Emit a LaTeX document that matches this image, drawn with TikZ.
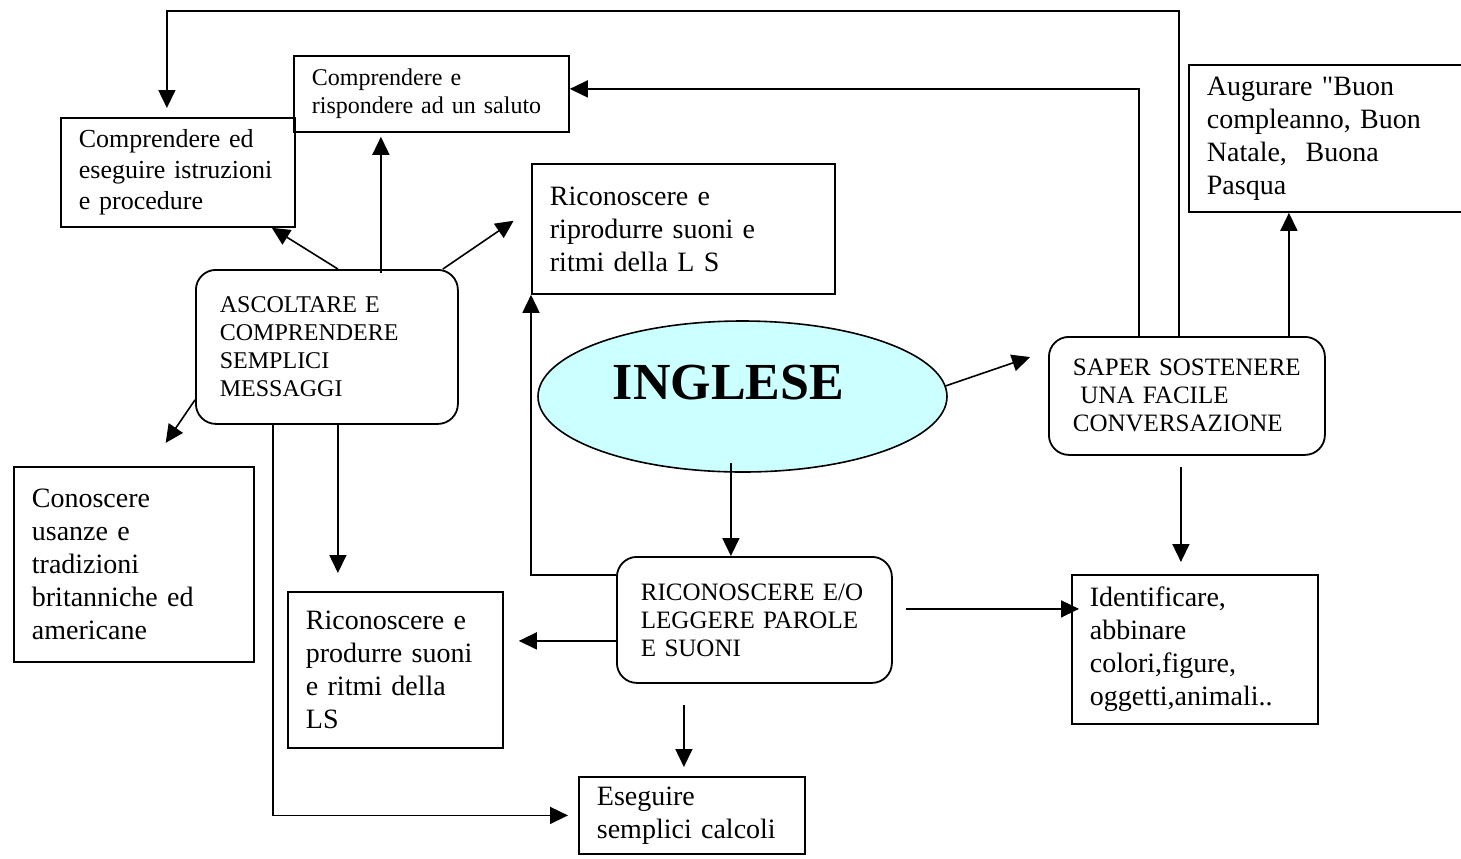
\documentclass[tikz,border=0pt]{standalone}
\usepackage{fontspec}
\setmainfont{Liberation Serif}[Ligatures=TeXOff]
\usetikzlibrary{arrows.meta,shapes.geometric}
\definecolor{lightcyan}{HTML}{CCFFFF}

\begin{document}
\begin{tikzpicture}[x=0.5pt,y=-0.5pt,>={Triangle[length=9pt,width=8.5pt]},line width=0.8pt]
  \tikzset{box/.style={draw,rectangle,anchor=north west,align=left,inner xsep=9pt,inner ysep=2pt,line width=0.9pt,font=\fontsize{14}{16.5}\selectfont},
    capsbox/.style={box,rounded corners=10pt,inner xsep=12pt,font=\fontsize{12.5}{14}\selectfont}}
  \useasboundingbox (0,0) rectangle (1461,858);
  \node[box,text width=99pt,minimum height=54.5pt,font=\fontsize{13}{15.5}\selectfont] (istruzioni) at (60,117) {Comprendere ed\\eseguire istruzioni\\e procedure};
  \node[box,text width=119.5pt,minimum height=38pt,font=\fontsize{12}{14}\selectfont] (saluto) at (293,55) {Comprendere e\\rispondere ad un saluto};
  \node[box,text width=133.5pt,minimum height=65pt] (riprodurre) at (531,163) {Riconoscere e\\riprodurre suoni e\\ritmi della L S};
  \node[box,text width=102pt,minimum height=97.5pt] (conoscere) at (13,466) {Conoscere\\usanze e\\tradizioni\\britanniche ed\\americane};
  \node[box,text width=89.5pt,minimum height=78pt] (produrre) at (287,591) {Riconoscere e\\produrre suoni\\e ritmi della\\LS};
  \node[box,text width=95pt,minimum height=38.5pt] (calcoli) at (578,776) {Eseguire\\semplici calcoli};
  \node[box,text width=127pt,minimum height=73.5pt] (augurare) at (1188,64) {Augurare "Buon\\compleanno, Buon\\Natale,~ Buona\\Pasqua};
  \node[box,text width=105pt,minimum height=74.5pt] (identificare) at (1071,574) {Identificare,\\abbinare\\colori,figure,\\oggetti,animali..};
  \node[capsbox,text width=107pt,minimum height=77pt,font=\fontsize{12}{14}\selectfont] (ascoltare) at (195,269) {ASCOLTARE E\\COMPRENDERE\\SEMPLICI\\MESSAGGI};
  \node[capsbox,text width=114pt,minimum height=59pt] (saper) at (1048,336) {SAPER SOSTENERE\\\hspace*{.3em}UNA FACILE\\CONVERSAZIONE};
  \node[capsbox,text width=113.5pt,minimum height=63pt] (riconoscere) at (616,556) {RICONOSCERE E/O\\LEGGERE PAROLE\\E SUONI};
  \node[draw,ellipse,fill=lightcyan,minimum width=204.5pt,minimum height=75.5pt,inner sep=0pt,
    label={[xshift=-7pt,yshift=7pt,font=\fontsize{26}{30}\bfseries]center:INGLESE}] (inglese) at (742.5,396.5) {};
  \coordinate (loop) at (1179,11);
  \draw[->,shorten >=4.5pt] (saper.north -| loop) -- (loop) -| ([xshift=-5.5pt]istruzioni.north);
  \draw[->] ([xshift=-24pt]saper.north) |- ([yshift=2.5pt]saluto.east);
  \draw[->] ([xshift=51pt]saper.north) -- ([xshift=51pt]saper.north |- augurare.south);
  \draw[->,shorten >=9.5pt] (inglese.3) -- ([yshift=22.5pt]saper.west);
  \draw[->,shorten <=-5pt] ([xshift=-11.75pt]riconoscere.north |- inglese.south) -- ([xshift=-11.75pt]riconoscere.north);
  \draw[->] ([yshift=22.5pt]riconoscere.west) -| (riprodurre.south west);
  \draw[->,shorten >=7.5pt] ([yshift=-10.5pt]riconoscere.west) -- ([yshift=-10.5pt]riconoscere.west -| produrre.east);
  \draw[->,shorten <=6.5pt,shorten >=-4pt] ([yshift=5.5pt]riconoscere.east) -- ([yshift=5.5pt]riconoscere.east -| identificare.west);
  \draw[->,shorten <=10.5pt,shorten >=4.5pt] ([xshift=-35.25pt]riconoscere.south) -- ([xshift=-35.25pt]riconoscere.south |- calcoli.north);
  \draw[->,shorten <=5.5pt,shorten >=6pt] ([xshift=-3pt]saper.south) -- ([xshift=-3pt]saper.south |- identificare.north);
  \draw[->] ([xshift=5.5pt]ascoltare.north) -- ([xshift=-12pt]istruzioni.south east);
  \draw[->,shorten <=-2pt,shorten >=2pt] ([xshift=27pt]ascoltare.north) -- ([xshift=27pt]ascoltare.north |- saluto.south);
  \draw[->,shorten >=10.5pt] ([xshift=58pt]ascoltare.north) -- ([yshift=10pt]riprodurre.west);
  \draw[->,shorten >=14pt] ([yshift=-26.5pt]ascoltare.west) -- ([xshift=8pt]conoscere.north);
  \draw[->,shorten >=9pt] ([xshift=5.5pt]ascoltare.south) -- ([xshift=5.5pt]ascoltare.south |- produrre.north);
  \draw[->,shorten >=5pt] ([xshift=-27pt]ascoltare.south) |- (calcoli.west);
\end{tikzpicture}
\end{document}
